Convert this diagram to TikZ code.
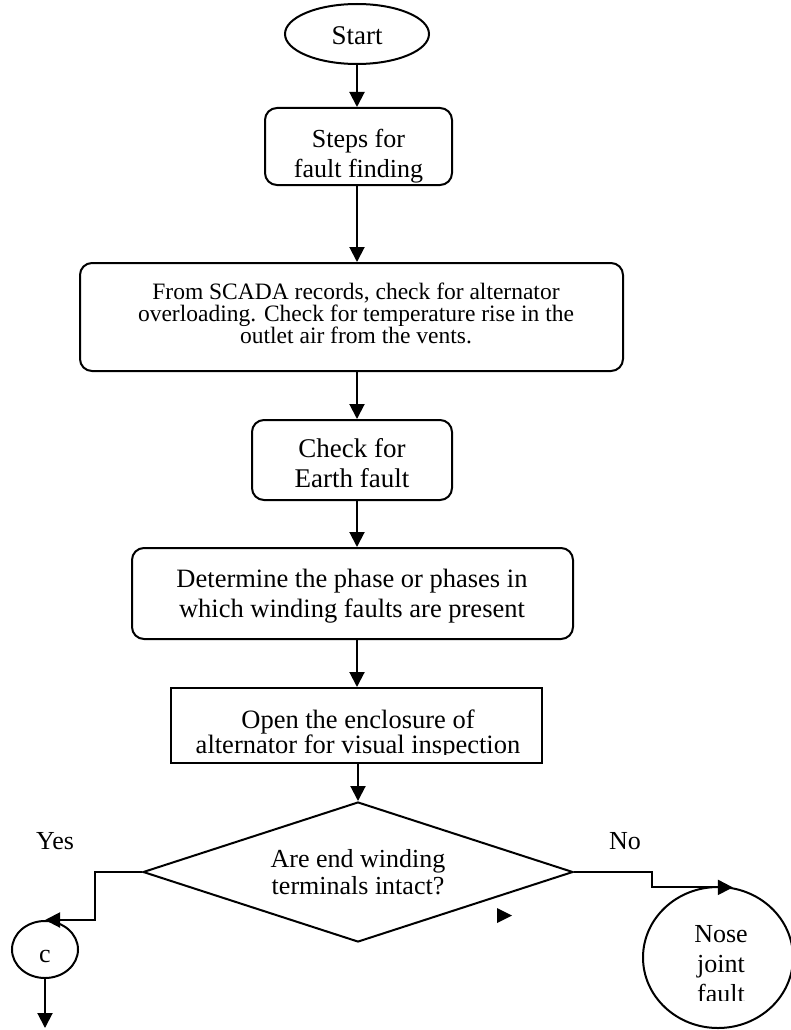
\documentclass[tikz,border=0pt]{standalone}
\usepackage{fontspec}
\setmainfont{Liberation Serif}
\usetikzlibrary{shapes.geometric,arrows.meta}
\newcommand{\mlt}[1]{\vtop{\let\\\cr\lineskiplimit=-1000pt\halign{\hfil##\hfil\cr#1\crcr}}}
\newcommand{\setfs}[2]{\fontsize{#1}{#2}\selectfont}
\begin{document}
\begin{tikzpicture}[x=1pt,y=-1pt,
  line width=2pt,
  arr/.style={-{Triangle[length=15pt,width=15pt]}},
  rbox/.style={draw, rectangle, rounded corners=12pt, inner sep=0pt},
  sbox/.style={draw, rectangle, inner sep=0pt},
  oval/.style={draw, ellipse, inner sep=0pt},
  txt/.style={inner sep=0pt, anchor=base},
]
\fill[white] (0,0) rectangle (790,1030);
\useasboundingbox (0,0) rectangle (790,1030);

% shapes
\node[oval, minimum width=144pt, minimum height=60pt] (start) at (357,34) {};
\node[txt, font=\setfs{27}{30}] (startT) at (357,45) {Start};

\node[rbox, minimum width=187pt, minimum height=77pt] (steps) at (358.5,146.5) {};
\node[txt, font=\setfs{26}{30}] (stepsT) at (358.5,147) {\mlt{Steps for\\fault finding}};

\node[rbox, minimum width=543pt, minimum height=108pt] (scada) at (351.5,317) {};
\node[txt, font=\setfs{23.5}{22}] (scadaT) at (356,299) {\mlt{From SCADA records, check for alternator\\overloading. Check for temperature rise in the\\outlet air from the vents.}};

\node[rbox, minimum width=200pt, minimum height=80pt] (earth) at (352,460) {};
\node[txt, font=\setfs{27}{30}] (earthT) at (352,457) {\mlt{Check for\\Earth fault}};

\node[rbox, minimum width=441pt, minimum height=91pt] (det) at (352.5,593.5) {};
\node[txt, font=\setfs{26.5}{30}] (detT) at (352,587) {\mlt{Determine the phase or phases in\\which winding faults are present}};

\node[sbox, minimum width=371pt, minimum height=75pt] (open) at (356.5,725.5) {};
\begin{scope}
\clip (171,688) rectangle (542,754);
\node[txt, font=\setfs{26.5}{25}] (openT) at (358,728) {\mlt{Open the enclosure of\\alternator for visual inspection}};
\end{scope}

\node[draw, diamond, inner sep=0pt, minimum width=430pt, minimum height=140pt] (dia) at (358,872) {};
\node[txt, font=\setfs{26}{27}] (diaT) at (358,867) {\mlt{Are end winding\\terminals intact?}};

\node[txt, font=\setfs{26}{30}] (yes) at (55,849) {Yes};
\node[txt, font=\setfs{26}{30}] (no) at (625,849) {No};

\node[oval, minimum width=66pt, minimum height=57pt] (c) at (45,949.5) {};
\node[txt, font=\setfs{26}{30}] (cT) at (45,962) {c};

\node[oval, minimum width=150pt, minimum height=141pt] (nose) at (718,957.5) {};
\begin{scope}
\clip (643,887) rectangle (790,1000);
\node[txt, font=\setfs{26}{30}] (noseT) at (721,942) {\mlt{Nose\\joint\\fault}};
\end{scope}

% connectors
\coordinate (ax) at (357,0);
\draw[arr] (start.south -| ax) -- (steps.north -| ax);
\draw[arr] (steps.south -| ax) -- (scada.north -| ax);
\draw[arr] (scada.south -| ax) -- (earth.north -| ax);
\draw[arr] (earth.south -| ax) -- (det.north -| ax);
\draw[arr] (det.south -| ax) -- (open.north -| ax);
\draw[arr] (open.south -| dia.north) -- (dia.north);

\coordinate (yb) at (95,872);
\draw[arr] (dia.west) -- (yb) |- (c.north);
\coordinate (cend) at (45,1028);
\draw[arr] (c.south) -- (cend);

\coordinate (nb) at (652,872);
\draw[arr] (dia.east) -- (nb) |- (nose.78);

% stray arrowhead
\fill (497,908) -- (512,915.5) -- (497,923) -- cycle;
\end{tikzpicture}
\end{document}
